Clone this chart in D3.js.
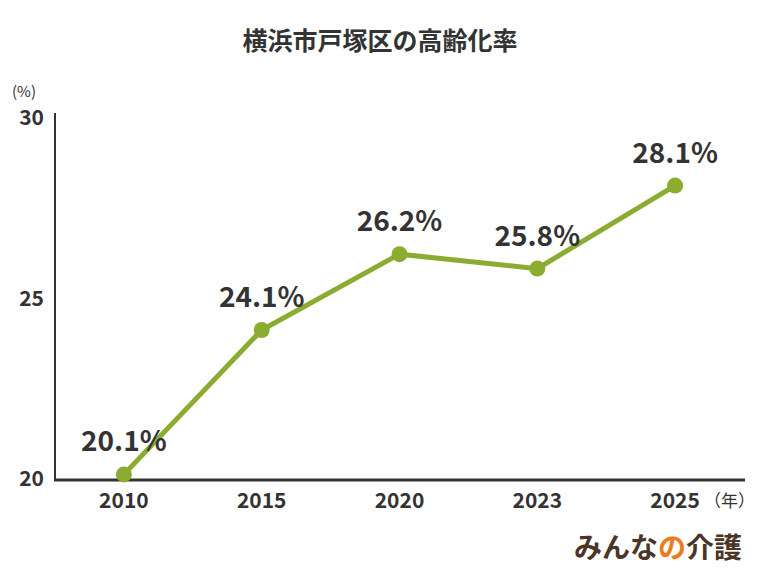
<!DOCTYPE html>
<html><head><meta charset="utf-8">
<script src="https://cdn.jsdelivr.net/npm/d3@7"></script>
<style>body{margin:0;background:#fff}text{font-family:"Noto Sans CJK JP","Noto Sans",sans-serif}</style>
</head><body><svg id="c" width="760" height="570"></svg>
<script>
const years = ["2010","2015","2020","2023","2025"];
const values = [20.1,24.1,26.2,25.8,28.1];
const yTicks = [20,25,30];
const svg = d3.select("#c");
const x = d3.scalePoint().domain(years).range([55,744]).padding(0.5);
const y = d3.scaleLinear().domain([20,30]).range([478,117]);
const dark = "#333";
svg.append("text").attr("x",380).attr("y",50).attr("text-anchor","middle").attr("font-size",25).attr("font-weight",700).attr("fill",dark).text("横浜市戸塚区の高齢化率");
svg.append("line").attr("x1",55).attr("x2",55).attr("y1",113).attr("y2",480).attr("stroke",dark).attr("stroke-width",2);
svg.append("line").attr("x1",54).attr("x2",745).attr("y1",480).attr("y2",480).attr("stroke",dark).attr("stroke-width",3);
yTicks.forEach(t=>svg.append("text").attr("x",44).attr("y",y(t)+8).attr("text-anchor","end").attr("font-size",21).attr("font-weight",700).attr("fill",dark).text(t));
svg.append("text").attr("x",12).attr("y",97).attr("font-size",15).attr("fill",dark).text("(%)");
years.forEach(yr=>svg.append("text").attr("x",x(yr)).attr("y",508).attr("text-anchor","middle").attr("font-size",21).attr("font-weight",700).attr("fill",dark).text(yr));
svg.append("text").attr("x",704).attr("y",507).attr("font-size",17).attr("fill",dark).text("（年）");
const data = years.map((yr,i)=>({yr,v:values[i]}));
svg.append("path").datum(data).attr("fill","none").attr("stroke","#8aac31").attr("stroke-width",5)
  .attr("d",d3.line().x(d=>x(d.yr)).y(d=>y(d.v)));
svg.selectAll("circle").data(data).join("circle").attr("cx",d=>x(d.yr)).attr("cy",d=>y(d.v)).attr("r",8).attr("fill","#8aac31");
svg.selectAll("text.lab").data(data).join("text").attr("class","lab").attr("x",d=>x(d.yr)).attr("y",d=>y(d.v)-23)
  .attr("text-anchor","middle").attr("font-size",28).attr("font-weight",700).attr("fill",dark).text(d=>d.v.toFixed(1)+"%");
const lg = svg.append("text").attr("x",742).attr("y",558).attr("text-anchor","end").attr("font-size",28).attr("font-weight",700).attr("fill","#4a3526");
lg.append("tspan").text("みんな");
lg.append("tspan").attr("fill","#ee7a1b").text("の");
lg.append("tspan").text("介護");
</script></body></html>
